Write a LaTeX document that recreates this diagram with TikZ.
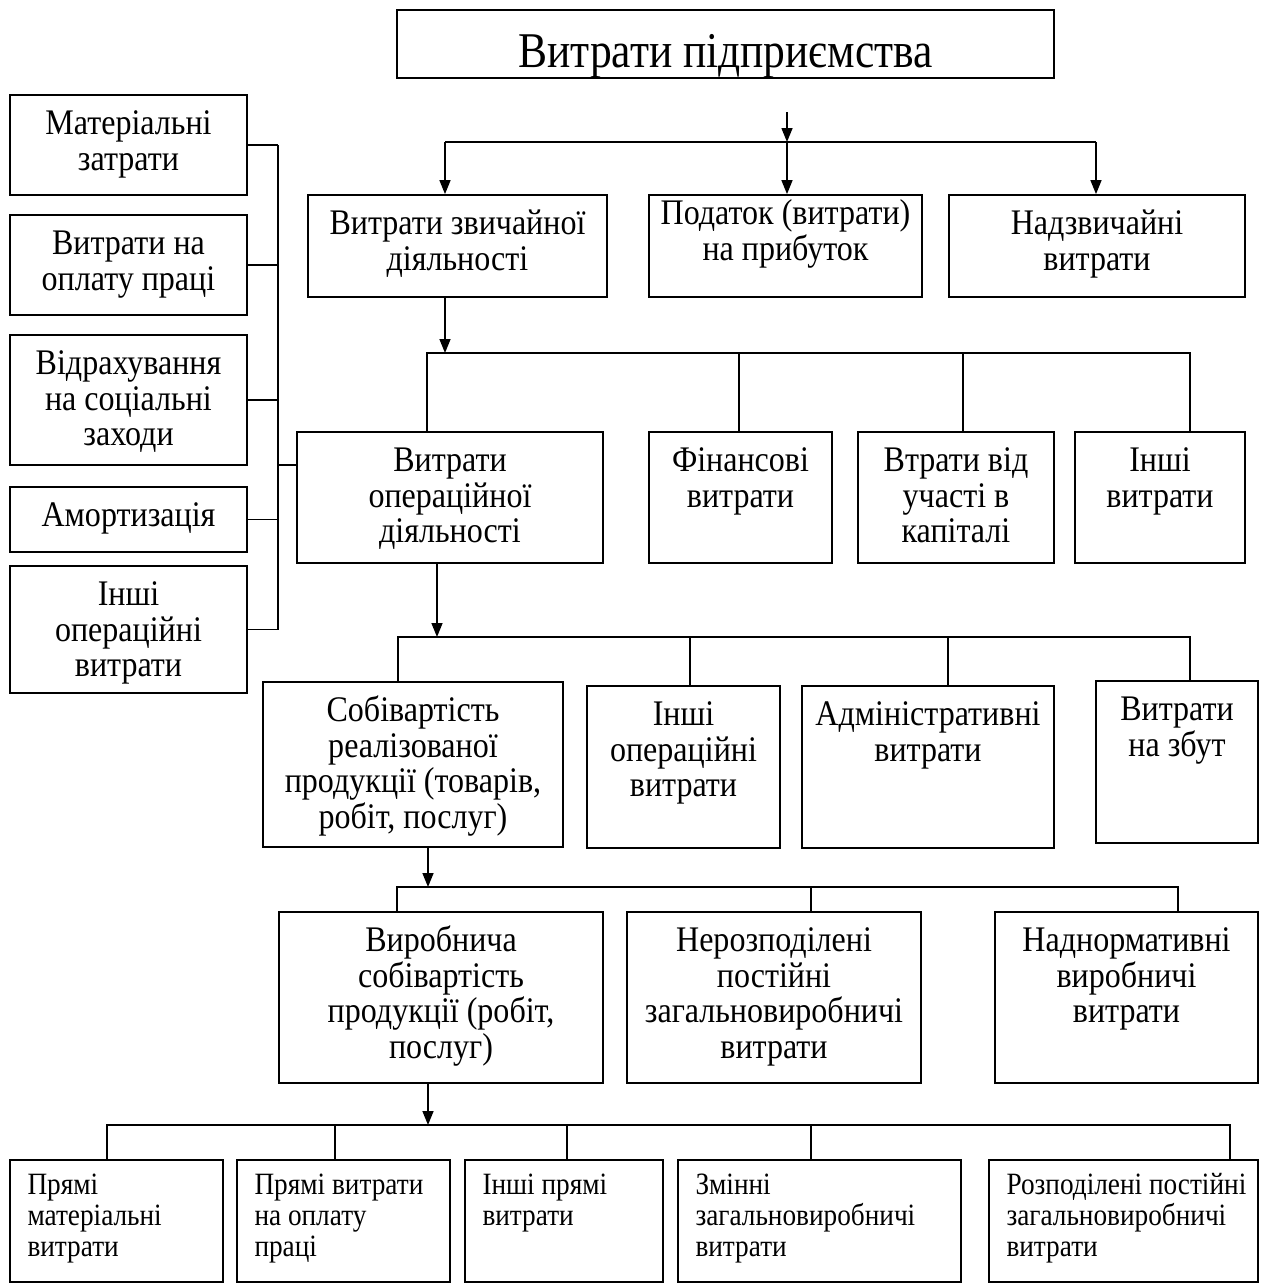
\documentclass[tikz,border=0pt]{standalone}
\usepackage{fontspec}
\setmainfont{Liberation Serif}
\newfontfamily\bodyf[FakeStretch=0.89]{Liberation Serif}
\newfontfamily\smallf[FakeStretch=0.88]{Liberation Serif}
\newfontfamily\titlef[FakeStretch=0.87]{Liberation Serif}
\usetikzlibrary{arrows.meta,fit}
\newcommand\mystrutA{\rule{0pt}{17pt}}
\newcommand\mystrutB{\rule{0pt}{14pt}}
\newcommand\bx[5]{\node[box, fit={(#2,#3)(#4,#5)}] (#1) {};}
\tikzset{
  box/.style={draw, line width=0.9pt, inner sep=0pt},
  txt/.style={font={\bodyf\fontsize{18}{17.75}\selectfont}, align=center, inner sep=0pt, anchor=north},
  smalltxt/.style={font={\smallf\fontsize{15.5}{15.5}\selectfont}, align=left, inner sep=0pt, anchor=north west},
  ln/.style={line width=0.75pt},
  arr/.style={line width=0.75pt, -{Triangle[length=7pt,width=5.5pt]}},
}
\begin{document}
\begin{tikzpicture}[x=0.5pt,y=-0.5pt]
\useasboundingbox (0,0) rectangle (1271,1286);
% boxes
\bx{title}{397}{10}{1054}{78}
\bx{m1}{10}{95}{247}{195}
\bx{m2}{10}{215}{247}{315}
\bx{m3}{10}{335}{247}{465}
\bx{m4}{10}{487}{247}{552}
\bx{m5}{10}{566}{247}{693}
\bx{a}{308}{195}{607}{297}
\bx{b}{649}{195}{922}{297}
\bx{c}{949}{195}{1245}{297}
\bx{ops}{297}{432}{603}{563}
\bx{fin}{649}{432}{832}{563}
\bx{vtr}{858}{432}{1054}{563}
\bx{inv}{1075}{432}{1245}{563}
\bx{sob}{263}{682}{563}{847}
\bx{io}{587}{686}{780}{848}
\bx{adm}{802}{686}{1054}{848}
\bx{zb}{1096}{681}{1258}{843}
\bx{vyr}{279}{912}{603}{1083}
\bx{ner}{627}{912}{921}{1083}
\bx{nad}{995}{912}{1258}{1083}
\bx{p1}{10}{1160}{223}{1282}
\bx{p2}{237}{1160}{450}{1282}
\bx{p3}{465}{1160}{663}{1282}
\bx{p4}{678}{1160}{961}{1282}
\bx{p5}{989}{1160}{1258}{1282}
% texts
\node[font={\titlef\fontsize{25}{30}\selectfont}, anchor=base, inner sep=0pt] (titlet) at (725.5,67) {Витрати підприємства};
\node[txt] (m1t) at ([yshift=-3pt]m1.north) {\mystrutA Матеріальні\\затрати};
\node[txt] (m2t) at ([yshift=-3pt]m2.north) {\mystrutA Витрати на\\оплату праці};
\node[txt] (m3t) at ([yshift=-3pt]m3.north) {\mystrutA Відрахування\\на соціальні\\заходи};
\node[txt] (m4t) at ([yshift=-3pt]m4.north) {\mystrutA Амортизація};
\node[txt] (m5t) at ([yshift=-3pt]m5.north) {\mystrutA Інші\\операційні\\витрати};
\node[txt] (at) at ([yshift=-3pt]a.north) {\mystrutA Витрати звичайної\\діяльності};
\node[txt] (bt) at ([yshift=2pt]b.north) {\mystrutA Податок (витрати)\\на прибуток};
\node[txt] (ct) at ([yshift=-3pt]c.north) {\mystrutA Надзвичайні\\витрати};
\node[txt] (opst) at ([yshift=-3pt]ops.north) {\mystrutA Витрати\\операційної\\діяльності};
\node[txt] (fint) at ([yshift=-3pt]fin.north) {\mystrutA Фінансові\\витрати};
\node[txt] (vtrt) at ([yshift=-3pt]vtr.north) {\mystrutA Втрати від\\участі в\\капіталі};
\node[txt] (invt) at ([yshift=-3pt]inv.north) {\mystrutA Інші\\витрати};
\node[txt] (sobt) at ([yshift=-3pt]sob.north) {\mystrutA Собівартість\\реалізованої\\продукції (товарів,\\робіт, послуг)};
\node[txt] (iot) at ([yshift=-3pt]io.north) {\mystrutA Інші\\операційні\\витрати};
\node[txt] (admt) at ([yshift=-3pt]adm.north) {\mystrutA Адміністративні\\витрати};
\node[txt] (zbt) at ([yshift=-3pt]zb.north) {\mystrutA Витрати\\на збут};
\node[txt] (vyrt) at ([yshift=-3pt]vyr.north) {\mystrutA Виробнича\\собівартість\\продукції (робіт,\\послуг)};
\node[txt] (nert) at ([yshift=-3pt]ner.north) {\mystrutA Нерозподілені\\постійні\\загальновиробничі\\витрати};
\node[txt] (nadt) at ([yshift=-3pt]nad.north) {\mystrutA Наднормативні\\виробничі\\витрати};
\node[smalltxt] (p1t) at ([xshift=9pt,yshift=-3.5pt]p1.north west) {\mystrutB Прямі\\матеріальні\\витрати};
\node[smalltxt] (p2t) at ([xshift=9pt,yshift=-3.5pt]p2.north west) {\mystrutB Прямі витрати\\на оплату\\праці};
\node[smalltxt] (p3t) at ([xshift=9pt,yshift=-3.5pt]p3.north west) {\mystrutB Інші прямі\\витрати};
\node[smalltxt] (p4t) at ([xshift=9pt,yshift=-3.5pt]p4.north west) {\mystrutB Змінні\\загальновиробничі\\витрати};
\node[smalltxt] (p5t) at ([xshift=9pt,yshift=-3.5pt]p5.north west) {\mystrutB Розподілені постійні\\загальновиробничі\\витрати};
% top connectors
\coordinate (t0) at (787,112);
\coordinate (tj) at (787,142);
\coordinate (tl) at (445,142);
\coordinate (tr) at (1096,142);
\draw[arr] (t0) -- (tj);
\draw[ln] (tl) -- (tr);
\draw[arr] (tl) -- (tl |- a.north);
\draw[arr] (tj) -- (tj |- b.north);
\draw[arr] (tr) -- (tr |- c.north);
% left bus
\coordinate (bx) at (278,0);
\coordinate (lo) at (278,465);
\foreach \n in {m1,m2,m3,m4,m5} {\draw[ln] (\n.east) -- (\n.east -| bx);}
\draw[ln] (m1.east -| bx) -- (m5.east -| bx);
\draw[ln] (lo) -- (lo -| ops.west);
% row 2
\coordinate (r2j) at (445,353);
\coordinate (r2l) at (427,353);
\coordinate (r2b) at (739,353);
\coordinate (r2c) at (963,353);
\coordinate (r2r) at (1190,353);
\draw[arr] (r2j |- a.south) -- (r2j);
\draw[ln] (r2l |- ops.north) -- (r2l) -- (r2r) -- (r2r |- inv.north);
\draw[ln] (r2b) -- (r2b |- fin.north);
\draw[ln] (r2c) -- (r2c |- vtr.north);
% row 3
\coordinate (r3j) at (437,637);
\coordinate (r3l) at (398,637);
\coordinate (r3b) at (690,637);
\coordinate (r3c) at (948,637);
\coordinate (r3r) at (1190,637);
\draw[arr] (r3j |- ops.south) -- (r3j);
\draw[ln] (r3l |- sob.north) -- (r3l) -- (r3r) -- (r3r |- zb.north);
\draw[ln] (r3b) -- (r3b |- io.north);
\draw[ln] (r3c) -- (r3c |- adm.north);
% row 4
\coordinate (r4j) at (428,887);
\coordinate (r4l) at (397,887);
\coordinate (r4b) at (811,887);
\coordinate (r4r) at (1178,887);
\draw[arr] (r4j |- sob.south) -- (r4j);
\draw[ln] (r4l |- vyr.north) -- (r4l) -- (r4r) -- (r4r |- nad.north);
\draw[ln] (r4b) -- (r4b |- ner.north);
% row 5
\coordinate (r5j) at (428,1125);
\coordinate (r5l) at (107,1125);
\coordinate (r5b) at (335,1125);
\coordinate (r5c) at (567,1125);
\coordinate (r5d) at (811,1125);
\coordinate (r5r) at (1230,1125);
\draw[arr] (r5j |- vyr.south) -- (r5j);
\draw[ln] (r5l |- p1.north) -- (r5l) -- (r5r) -- (r5r |- p5.north);
\draw[ln] (r5b) -- (r5b |- p2.north);
\draw[ln] (r5c) -- (r5c |- p3.north);
\draw[ln] (r5d) -- (r5d |- p4.north);
\end{tikzpicture}
\end{document}
